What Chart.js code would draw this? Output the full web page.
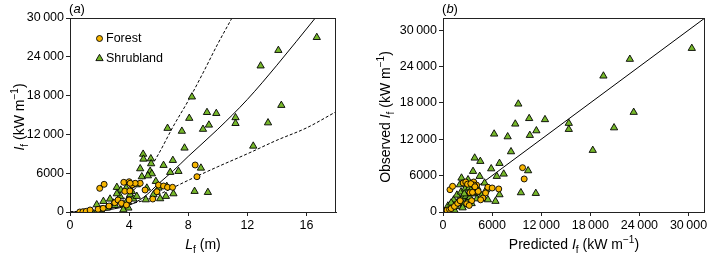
<!DOCTYPE html>
<html><head><meta charset="utf-8">
<script src="https://cdn.jsdelivr.net/npm/chart.js@4/dist/chart.umd.min.js"></script>
<style>
html,body{margin:0;padding:0;background:#fff;}
#wrap{position:relative;width:710px;height:256px;overflow:hidden;}
#c1{position:absolute;left:0;top:0;}
#c2{position:absolute;left:355px;top:0;}
</style></head><body>
<div id="wrap"><canvas id="c1" width="355" height="256" style="width:355px;height:256px"></canvas><canvas id="c2" width="355" height="256" style="width:355px;height:256px"></canvas></div>
<script>
// ---------- data ----------
// panel (a): flame length Lf (m) vs fireline intensity If (kW m-1)
const forestA = [[0.66,0],[0.88,50],[1.1,110],[1.36,310],[1.9,420],[2.24,570],[2.64,930],[3.03,1440],[3.25,1860],
  [2.01,3660],[2.31,4280],[3.64,4590],[4.0,4680],[4.2,4170],[3.71,3200],[4.05,3250],[4.0,1860],[3.48,1350],[3.82,1080],
  [8.47,7270],[8.59,5460],[5.99,4170],[6.33,4020],[6.6,3820],[6.94,3820],[5.6,2010],[4.75,4440],[4.41,4440],
  [4.07,4440],[5.08,3400],[5.88,3140]];
const shrubA = [[16.7,27000],[14.1,25000],[12.9,22600],[14.3,16500],[13.4,13800],[12.4,10200],[8.25,17800],[8.07,14500],
  [9.27,15400],[9.9,15250],[11.2,14600],[11.2,13700],[9.4,13450],[6.6,12950],[7.57,12500],[9.0,12800],[7.75,9900],
  [4.95,8950],[4.97,8190],[5.47,8240],[5.49,7470],[6.33,7220],[6.96,7990],[4.75,6700],[5.42,6290],[5.54,5920],
  [6.78,6140],[7.34,6290],[8.86,6800],[4.86,5460],[5.27,5610],[5.81,4740],[4.52,4220],[5.2,3710],[3.8,3710],
  [3.17,3820],[3.44,3400],[4.18,3200],[5.99,3710],[6.55,3970],[7.0,2830],[6.1,2060],[5.13,1900],[8.43,3200],
  [9.33,3040],[4.07,2680],[3.39,2430],[2.71,2010],[2.94,1390],[2.26,1650],[1.81,1130],[3.61,1130],[3.95,620],
  [3.61,360],[2.1,360],[1.47,100],[1.81,100],[2.49,620],[4.29,2010],[3.17,2830],[3.05,1030],[3.84,1650],
  [4.52,2430],[5.65,2680],[6.49,2430]];
// fitted curve and bounds
const fitMid   = [[0,0],[2,150],[3,500],[4,1050],[5,2300],[6,4400],[7,6400],[8,8600],[10,12800],[12,17400],[14,22700],[16.6,30000]];
const fitUpper = [[0,0],[2,400],[3,1200],[4,2700],[5,5300],[6,9000],[7,13300],[8,17200],[9,21500],[10,26000],[10.96,30000]];
const fitLower = [[0,0],[2,250],[4,1200],[5,1800],[6,2700],[8,4900],[10,7000],[12,9000],[14,11100],[16,13000],[18,15500]];
// panel (b): predicted vs observed If (kW m-1)
const forestB = [[100,0],[200,50],[350,110],[500,310],[800,420],[1000,570],[1400,930],[1800,1440],[2100,1860],
  [850,3680],[1170,4240],[2460,4790],[2780,4950],[3750,4950],[5480,4080],[6010,3960],[6810,3800],[4880,2310],
  [9720,7310],[9920,5450],[3300,3200],[3600,3250],[3500,1860],[2900,1350],[3200,1080],[4100,4440],[3800,4440],
  [4300,3400],[5200,3140],[4600,2010],[3000,4590],[3400,4680],[3900,4170]];
const shrubB = [[30400,27000],[22830,25200],[19600,22440],[23300,16450],[9200,17820],[8830,14520],[10530,15430],
  [12460,15250],[15370,14640],[15370,13640],[20900,13900],[11410,13410],[10610,12650],[7900,12420],[6250,12870],
  [18300,10180],[8310,9950],[3870,8910],[4560,8360],[6900,8030],[3670,6710],[5890,7140],[4480,5890],[7420,6270],
  [10400,6820],[9520,3190],[11340,3080],[6570,5890],[4150,2190],[5480,2030],[6410,1770],[6900,2860],[5280,3680],
  [5080,4790],[3870,4240],[3060,5330],[2260,5610],[2060,4500],
  [300,100],[500,300],[700,500],[900,800],[1200,1100],[1500,1400],[1800,1700],[2100,2000],[2400,2300],[2800,2600],
  [600,1000],[1100,600],[1600,900],[2000,1500],[2500,1200],[3000,1800],[3300,2400],[3600,3000],[4000,3500],
  [1300,2000],[1700,2800],[2200,3300],[2700,3800],[3200,4000],[4300,3200],[4700,2700],[1000,1500],[2400,700],
  [3500,1400],[800,200],[1400,300],[2600,3000],[3400,3600],[4200,4000]];
const oneToOne = [[0,0],[32000,32000]];
const seriesNames = ['Forest','Shrubland'];
const ticksA_x = [0,4,8,12,16];
const ticksA_y = [0,6000,12000,18000,24000,30000];
const ticksB = [0,6000,12000,18000,24000,30000];

// ---------- styling ----------
const FAM = '"Liberation Sans", Arial, Helvetica, sans-serif';
const FOREST_FILL = '#f7b500';
const SHRUB_FILL = '#76b82a';
const toXY = a => a.map(p => ({x:p[0], y:p[1]}));
const fmt = v => v >= 10000 ? String(v).replace(/(\d)(\d{3})$/, '$1\u2009$2') : String(v);

function drawRich(ctx, segs, cx, cy, rot, size){
  ctx.save();
  ctx.translate(cx, cy);
  if (rot) ctx.rotate(-Math.PI/2);
  ctx.textBaseline = 'alphabetic';
  ctx.textAlign = 'left';
  ctx.fillStyle = '#000';
  const fontOf = s => (s.it ? 'italic ' : '') + ((s.sub||s.sup) ? size*0.72 : size) + 'px ' + FAM;
  let total = 0;
  segs.forEach(s => { ctx.font = fontOf(s); s.w = ctx.measureText(s.t).width; total += s.w; });
  let x = -total/2;
  const base = size*0.36;
  segs.forEach(s => {
    ctx.font = fontOf(s);
    let dy = base;
    if (s.sub) dy += size*0.28;
    if (s.sup) dy -= size*0.42;
    ctx.fillText(s.t, x, dy);
    x += s.w;
  });
  ctx.restore();
}

function makePlugin(cfg){
  return {
    id: 'decor',
    afterDraw(chart){
      const ctx = chart.ctx, a = chart.chartArea;
      ctx.save();
      ctx.strokeStyle = '#222';
      ctx.lineWidth = 1;
      ctx.strokeRect(Math.round(a.left)+0.5, Math.round(a.top)+0.5, Math.round(a.right-a.left)-1, Math.round(a.bottom-a.top));
      ctx.restore();
      // panel label
      drawRich(ctx, [{t:'('},{t:cfg.panel,it:true},{t:')'}], a.left + 7, 8, false, 13);
      drawRich(ctx, cfg.xTitle, (a.left+a.right)/2, 244, false, 14);
      drawRich(ctx, cfg.yTitle, cfg.yTitleX, (a.top+a.bottom)/2 + 2, true, 14);
      if (cfg.legend){
        const fm = chart.getDatasetMeta(0), sm = chart.getDatasetMeta(1);
        const items = [
          {ds: chart.data.datasets[0], x: a.left+29.5, y: 38.5},
          {ds: chart.data.datasets[1], x: a.left+29.5, y: 58.5}
        ];
        items.forEach(it => {
          ctx.save();
          ctx.fillStyle = it.ds.backgroundColor;
          ctx.strokeStyle = it.ds.borderColor;
          ctx.lineWidth = it.ds.borderWidth;
          Chart.helpers.drawPoint(ctx, {pointStyle: it.ds.pointStyle, radius: it.ds.pointRadius, rotation: 0, borderWidth: it.ds.borderWidth}, it.x, it.y);
          ctx.restore();
          ctx.save();
          ctx.font = '12.5px ' + FAM;
          ctx.fillStyle = '#000';
          ctx.textBaseline = 'middle';
          ctx.fillText(it.ds.label, it.x + 6.5, it.y);
          ctx.restore();
        });
      }
    }
  };
}

function axis(min, max, step, fit, isX, fitSize, tickList){
  return {
    type: 'linear', min, max,
    afterBuildTicks(s){ s.ticks = tickList.map(v => ({value:v})); },
    ticks: { stepSize: step, includeBounds: false, color: '#000', font: {family: FAM, size: 12.5}, padding: 2,
             maxRotation: 0, autoSkip: false, callback: v => fmt(v) },
    grid: { drawOnChartArea: false, drawTicks: true, tickLength: 4, color: '#222', tickColor: '#222' },
    border: { display: true, color: '#222', width: 1 },
    afterFit(s){ if (isX) s.height = fitSize; else s.width = fitSize; }
  };
}

function scatterSet(label, data, style, fill, r){
  return { type: 'scatter', label, data: toXY(data), pointStyle: style, pointRadius: r, pointHoverRadius: r,
           backgroundColor: fill, borderColor: '#000', borderWidth: 0.9, showLine: false };
}
function lineSet(label, data, dash){
  return { type: 'line', label, data: toXY(data), showLine: true, pointRadius: 0, borderColor: '#000', borderWidth: 1,
           borderDash: dash, cubicInterpolationMode: 'monotone', fill: false };
}

Chart.defaults.animation = false;

new Chart(document.getElementById('c1'), {
  type: 'scatter',
  data: { datasets: [
    scatterSet(seriesNames[0], forestA, 'circle', FOREST_FILL, 3),
    scatterSet(seriesNames[1], shrubA, 'triangle', SHRUB_FILL, 4.2),
    lineSet('fit', fitMid, []),
    lineSet('upper', fitUpper, [3,2]),
    lineSet('lower', fitLower, [3,2])
  ]},
  options: {
    responsive: false, animation: false,
    layout: { padding: { top: 18, right: 19, left: 0, bottom: 0 } },
    plugins: { legend: { display: false }, tooltip: { enabled: false } },
    scales: { x: axis(0, 18, 4, null, true, 44, ticksA_x), y: axis(0, 30000, 6000, null, false, 70, ticksA_y) }
  },
  plugins: [makePlugin({
    panel: 'a', legend: true,
    xTitle: [{t:'L',it:true},{t:'f',sub:true},{t:' (m)'}],
    yTitle: [{t:'I',it:true},{t:'f',sub:true},{t:' (kW m'},{t:'\u22121',sup:true},{t:')'}],
    yTitleX: 19
  })]
});

new Chart(document.getElementById('c2'), {
  type: 'scatter',
  data: { datasets: [
    scatterSet(seriesNames[0], forestB, 'circle', FOREST_FILL, 3),
    scatterSet(seriesNames[1], shrubB, 'triangle', SHRUB_FILL, 4.2),
    lineSet('1:1', oneToOne, [])
  ]},
  options: {
    responsive: false, animation: false,
    layout: { padding: { top: 18, right: 2, left: 0, bottom: 0 } },
    plugins: { legend: { display: false }, tooltip: { enabled: false } },
    scales: { x: axis(0, 32000, 6000, null, true, 44, ticksB), y: axis(0, 32000, 6000, null, false, 88, ticksB) }
  },
  plugins: [makePlugin({
    panel: 'b', legend: false,
    xTitle: [{t:'Predicted '},{t:'I',it:true},{t:'f',sub:true},{t:' (kW m'},{t:'\u22121',sup:true},{t:')'}],
    yTitle: [{t:'Observed '},{t:'I',it:true},{t:'f',sub:true},{t:' (kW m'},{t:'\u22121',sup:true},{t:')'}],
    yTitleX: 30
  })]
});
</script>
</body></html>
